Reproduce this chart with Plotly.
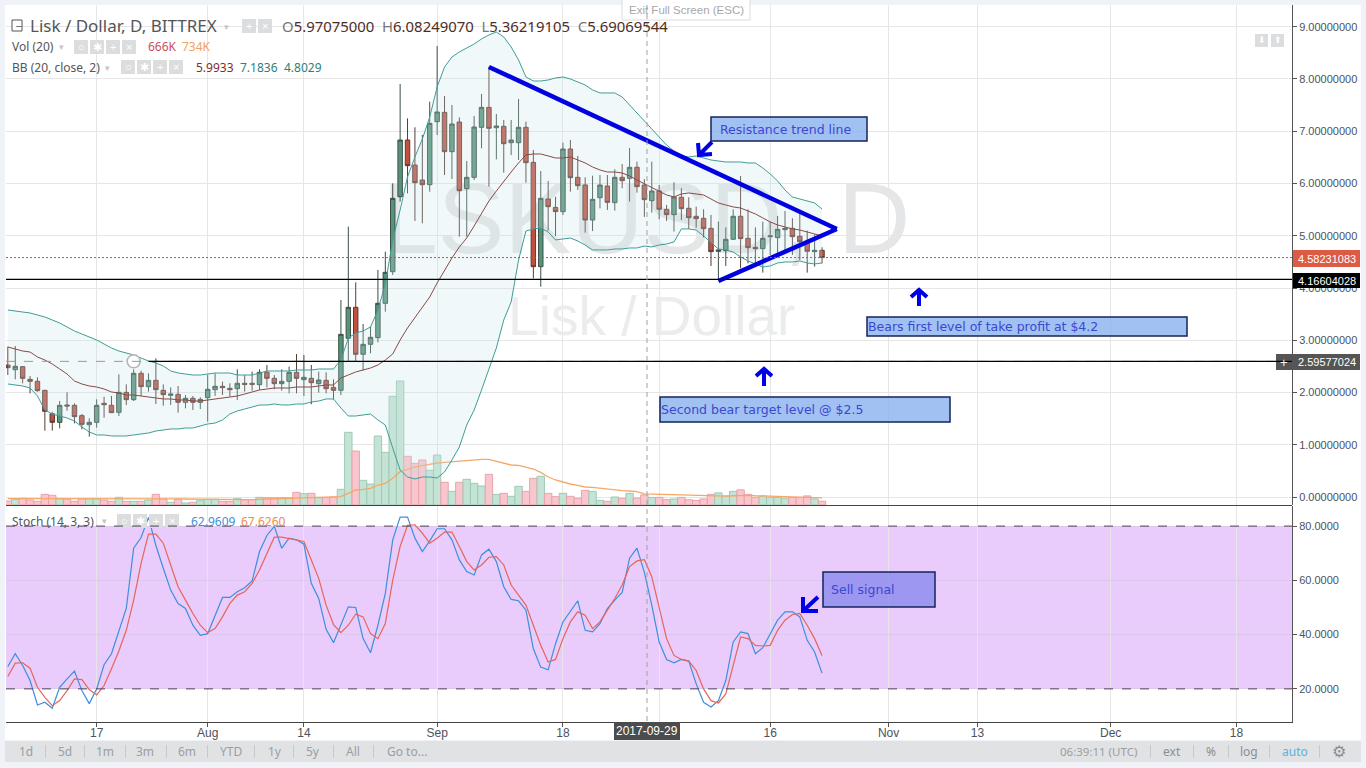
import pandas as pd
import plotly.graph_objects as go

W = 1366
H = 768

# Lisk / Dollar daily candles
dates = pd.date_range("2017-07-05", periods=111, freq="D")

opens = [2.526, 2.437, 2.495, 2.252, 2.214, 2.042, 1.595, 1.429, 1.761, 1.755,
         1.557, 1.384, 1.429, 1.793, 1.755, 1.621, 2.003, 1.863, 2.367, 2.112,
         2.233, 2.042, 1.946, 1.965, 1.812, 1.889, 1.812, 1.901, 2.054, 2.118,
         2.080, 2.073, 2.176, 2.176, 2.150, 2.386, 2.271, 2.169, 2.214, 2.386,
         2.246, 2.271, 2.169, 2.233, 2.099, 2.042, 3.037, 3.630, 2.731, 2.922,
         3.050, 3.707, 4.312, 5.747, 6.832, 6.354, 6.066, 5.977, 7.183, 7.362,
         6.609, 7.177, 5.901, 6.118, 7.075, 7.457, 7.068, 7.094, 6.781, 6.781,
         7.075, 6.405, 4.408, 5.703, 5.543, 5.461, 6.660, 6.118, 5.971, 5.301,
         5.728, 5.952, 5.634, 6.118, 6.099, 6.310, 5.97075, 5.672, 5.857, 5.506,
         5.404, 5.736, 5.525, 5.372, 5.334, 5.142, 4.702, 4.715, 4.932, 5.372,
         4.951, 4.779, 4.753, 4.983, 4.964, 5.117, 5.142, 4.989, 4.881, 4.696, 4.721]

highs = [2.877, 2.890, 2.507, 2.316, 2.290, 2.048, 1.633, 1.837, 2.003, 1.793,
         1.589, 1.506, 1.869, 1.920, 1.933, 2.348, 2.156, 2.444, 2.418, 2.367,
         2.654, 2.156, 2.099, 2.125, 1.952, 1.933, 1.908, 2.335, 2.367, 2.207,
         2.176, 2.444, 2.335, 2.399, 2.444, 2.527, 2.335, 2.444, 2.495, 2.737,
         2.718, 2.527, 2.399, 2.386, 2.252, 3.770, 5.174, 4.109, 3.311, 3.260,
         4.345, 4.696, 6.003, 7.904, 7.247, 7.075, 6.928, 7.566, 8.631, 7.674,
         7.502, 7.266, 6.430, 7.292, 7.713, 8.236, 7.330, 7.215, 7.215, 7.617,
         7.183, 6.641, 6.239, 6.047, 5.748, 6.781, 6.832, 6.526, 6.118, 6.150,
         6.162, 6.162, 6.272, 6.374, 6.680, 6.418, 6.08249, 6.418, 5.972, 5.589,
         6.023, 5.908, 5.736, 5.557, 5.506, 5.398, 5.270, 5.161, 5.506, 6.144,
         5.506, 5.161, 5.270, 5.270, 5.378, 5.474, 5.334, 5.429, 5.098, 5.027, 4.779]

lows = [2.335, 2.252, 2.176, 1.984, 2.016, 1.270, 1.270, 1.314, 1.652, 1.410,
        1.295, 1.155, 1.327, 1.518, 1.614, 1.550, 1.761, 1.837, 1.933, 2.016,
        1.780, 1.748, 1.761, 1.614, 1.697, 1.665, 1.684, 1.442, 1.933, 1.952,
        1.920, 1.857, 2.016, 2.035, 2.048, 2.099, 2.061, 2.035, 1.984, 1.984,
        1.933, 1.774, 1.997, 1.984, 1.869, 1.952, 2.590, 2.590, 2.418, 2.750,
        2.960, 3.547, 4.250, 5.652, 5.811, 5.282, 5.237, 5.843, 6.928, 6.162,
        6.086, 4.982, 4.982, 6.067, 6.673, 5.939, 6.462, 6.207, 6.545, 6.449,
        6.016, 4.185, 4.025, 5.097, 4.995, 5.397, 5.843, 5.875, 5.059, 5.090,
        5.524, 5.492, 5.480, 5.908, 5.653, 5.825, 5.36219, 5.442, 5.315, 5.283,
        5.079, 5.302, 5.130, 5.155, 4.970, 4.421, 4.153, 4.421, 4.919, 4.377,
        4.472, 4.472, 4.294, 4.632, 4.632, 4.664, 4.632, 4.536, 4.294, 4.409, 4.472]

closes = [2.475, 2.501, 2.271, 2.214, 2.035, 1.640, 1.429, 1.755, 1.742, 1.538,
          1.391, 1.429, 1.755, 1.767, 1.614, 2.003, 1.863, 2.367, 2.112, 2.233,
          2.054, 1.959, 1.971, 1.812, 1.889, 1.812, 1.869, 2.061, 2.118, 2.093,
          2.054, 2.176, 2.156, 2.156, 2.386, 2.271, 2.169, 2.214, 2.386, 2.271,
          2.290, 2.188, 2.239, 2.073, 2.042, 3.113, 3.630, 2.731, 2.922, 3.056,
          3.707, 4.300, 5.716, 6.832, 6.341, 6.016, 5.977, 7.151, 7.368, 6.609,
          7.138, 5.862, 6.118, 7.081, 7.457, 7.056, 7.100, 6.762, 6.832, 7.075,
          6.398, 4.408, 5.716, 5.556, 5.461, 6.660, 6.111, 5.958, 5.301, 5.697,
          5.971, 5.639, 6.118, 6.055, 6.310, 5.940, 5.69070, 5.857, 5.506, 5.404,
          5.742, 5.519, 5.346, 5.327, 5.136, 4.696, 4.728, 4.932, 5.372, 4.945,
          4.772, 4.753, 4.951, 4.996, 5.123, 5.142, 4.983, 4.887, 4.702, 4.721, 4.58231]

# volume in thousands
volumes = [264, 374, 440, 330, 242, 704, 638, 418, 396, 242,
           396, 418, 418, 330, 242, 506, 242, 242, 242, 330,
           704, 396, 176, 396, 132, 176, 286, 374, 374, 242,
           242, 418, 352, 352, 506, 484, 484, 484, 484, 836,
           748, 770, 484, 484, 528, 1034, 4796, 3564, 1628, 1386,
           4554, 3476, 7172, 8184, 3212, 2750, 2970, 2288, 3300, 1496,
           902, 1496, 1694, 1430, 1254, 2024, 704, 770, 572, 1232,
           902, 1760, 1892, 770, 550, 770, 572, 440, 968, 902,
           308, 242, 528, 440, 770, 462, 666, 500, 500, 350,
           400, 500, 350, 300, 400, 700, 800, 600, 900, 1000,
           700, 500, 600, 500, 500, 450, 500, 500, 600, 400, 250]

vol_ma = [420, 420, 425, 430, 430, 435, 440, 440, 445, 445,
          440, 440, 430, 430, 425, 425, 420, 420, 415, 410,
          410, 405, 400, 400, 395, 385, 380, 365, 360, 350,
          345, 340, 350, 360, 375, 385, 400, 410, 420, 430,
          440, 450, 460, 480, 506, 550, 770, 990, 1034, 1100,
          1320, 1430, 1760, 2200, 2354, 2508, 2596, 2706, 2772, 2816,
          2860, 2882, 2926, 2970, 3014, 3014, 2904, 2750, 2640, 2618,
          2508, 2376, 2156, 1848, 1650, 1496, 1386, 1298, 1188, 1166,
          1100, 1034, 990, 946, 924, 880, 734, 720, 700, 690,
          680, 670, 640, 620, 600, 590, 590, 580, 610, 640,
          640, 610, 590, 570, 560, 540, 530, 520, 510, 500, 470]

bb_upper = [3.579, 3.560, 3.541, 3.522, 3.483, 3.445, 3.388, 3.330, 3.254, 3.177,
            3.120, 3.062, 3.005, 2.928, 2.852, 2.794, 2.756, 2.718, 2.660, 2.603,
            2.565, 2.507, 2.412, 2.373, 2.354, 2.335, 2.335, 2.354, 2.373, 2.373,
            2.373, 2.335, 2.335, 2.335, 2.373, 2.412, 2.412, 2.412, 2.412, 2.431,
            2.431, 2.431, 2.450, 2.450, 2.450, 2.622, 3.043, 3.139, 3.177, 3.254,
            3.579, 4.077, 4.919, 5.493, 6.125, 6.508, 6.852, 7.273, 7.847, 8.230,
            8.422, 8.517, 8.594, 8.670, 8.766, 8.843, 8.900, 8.804, 8.613, 8.364,
            8.039, 7.962, 7.962, 7.981, 8.020, 8.039, 8.000, 7.943, 7.886, 7.790,
            7.733, 7.733, 7.733, 7.656, 7.503, 7.350, 7.1836, 7.044, 6.890, 6.737,
            6.622, 6.527, 6.508, 6.527, 6.488, 6.450, 6.431, 6.412, 6.412, 6.412,
            6.393, 6.393, 6.297, 6.182, 6.048, 5.876, 5.742, 5.704, 5.665, 5.627, 5.512]

bb_middle = [2.871, 2.833, 2.794, 2.775, 2.680, 2.622, 2.546, 2.450, 2.354, 2.220,
             2.163, 2.125, 2.105, 2.067, 2.010, 1.991, 1.952, 1.952, 1.933, 1.914,
             1.895, 1.876, 1.876, 1.857, 1.857, 1.837, 1.837, 1.857, 1.876, 1.895,
             1.914, 1.933, 1.971, 2.010, 2.048, 2.067, 2.086, 2.086, 2.086, 2.105,
             2.105, 2.105, 2.125, 2.144, 2.144, 2.278, 2.335, 2.393, 2.431, 2.469,
             2.526, 2.622, 2.737, 3.005, 3.235, 3.426, 3.637, 3.828, 4.096, 4.345,
             4.574, 4.785, 4.957, 5.187, 5.436, 5.665, 5.857, 6.048, 6.220, 6.393,
             6.546, 6.565, 6.565, 6.527, 6.488, 6.488, 6.508, 6.450, 6.393, 6.316,
             6.259, 6.220, 6.220, 6.201, 6.144, 6.067, 5.9933, 5.933, 5.857, 5.780,
             5.742, 5.799, 5.819, 5.799, 5.780, 5.704, 5.627, 5.589, 5.551, 5.531,
             5.474, 5.417, 5.340, 5.264, 5.206, 5.168, 5.130, 5.110, 5.072, 5.034, 4.996]

bb_lower = [2.163, 2.144, 2.125, 2.086, 1.933, 1.665, 1.589, 1.550, 1.512, 1.455,
            1.340, 1.244, 1.187, 1.187, 1.168, 1.168, 1.168, 1.187, 1.206, 1.225,
            1.263, 1.282, 1.302, 1.302, 1.321, 1.321, 1.359, 1.397, 1.416, 1.474,
            1.589, 1.646, 1.684, 1.723, 1.761, 1.761, 1.780, 1.761, 1.761, 1.780,
            1.780, 1.818, 1.837, 1.876, 1.876, 1.703, 1.550, 1.550, 1.570, 1.589,
            1.474, 1.378, 0.938, 0.517, 0.383, 0.345, 0.383, 0.383, 0.364, 0.479,
            0.708, 0.957, 1.378, 1.665, 2.048, 2.469, 2.852, 3.388, 3.732, 4.536,
            5.091, 5.130, 5.149, 5.072, 4.919, 4.938, 4.957, 4.900, 4.823, 4.728,
            4.728, 4.728, 4.747, 4.747, 4.766, 4.766, 4.8029, 4.785, 4.823, 4.842,
            4.881, 5.130, 5.130, 5.110, 4.996, 4.862, 4.747, 4.728, 4.689, 4.594,
            4.517, 4.460, 4.402, 4.421, 4.479, 4.498, 4.498, 4.517, 4.479, 4.460, 4.479]

stoch_k = [28.27, 32.96, 28.64, 23.08, 14.07, 15.06, 12.84, 20.61, 23.70, 26.54,
           19.38, 14.57, 20.00, 28.89, 32.96, 41.00, 49.63, 71.85, 75.80, 83.21,
           72.84, 64.44, 56.42, 51.48, 49.63, 43.46, 39.75, 40.37, 47.16, 53.70,
           53.70, 55.80, 57.28, 59.75, 70.62, 76.54, 79.88, 71.85, 75.55, 74.94,
           73.33, 58.89, 53.33, 41.97, 37.04, 43.46, 50.25, 50.00, 38.52, 33.33,
           43.46, 55.18, 74.94, 83.33, 83.33, 75.55, 70.62, 74.57, 79.01, 79.01,
           74.94, 67.53, 63.21, 61.97, 69.38, 71.48, 66.91, 57.65, 52.96, 52.47,
           49.01, 34.81, 28.02, 27.03, 36.66, 44.69, 48.64, 52.47, 41.60, 40.99,
           44.07, 49.63, 52.71, 55.55, 68.15, 71.85, 62.96, 50.86, 37.28, 30.86,
           29.63, 30.86, 30.24, 21.85, 15.06, 13.33, 15.68, 23.08, 37.28, 40.99,
           40.37, 32.96, 35.18, 40.37, 45.31, 48.39, 48.39, 46.54, 37.90, 33.58, 25.80]

stoch_d = [24.57, 29.50, 29.63, 27.65, 20.61, 16.91, 13.82, 15.68, 19.38, 23.70,
           23.45, 19.75, 17.77, 21.23, 27.40, 33.95, 41.60, 52.71, 66.29, 77.04,
           77.04, 73.70, 65.68, 57.65, 52.71, 47.78, 43.46, 40.74, 42.22, 46.54,
           51.48, 54.57, 55.80, 58.89, 63.83, 70.00, 75.92, 75.92, 75.31, 74.69,
           74.32, 67.53, 60.74, 50.86, 43.70, 40.74, 43.46, 47.53, 46.54, 40.37,
           38.52, 44.07, 60.12, 72.47, 80.25, 80.49, 77.41, 73.70, 75.55, 77.78,
           77.78, 72.47, 66.91, 63.83, 65.68, 68.52, 68.76, 65.68, 58.27, 54.57,
           50.86, 43.46, 36.05, 29.87, 30.86, 38.52, 44.69, 48.39, 47.16, 42.22,
           44.69, 49.01, 53.33, 58.27, 65.06, 67.16, 67.63, 61.36, 49.63, 38.52,
           32.34, 30.86, 30.24, 26.79, 20.00, 15.68, 14.81, 18.15, 28.64, 39.13,
           38.52, 36.05, 35.80, 36.05, 41.60, 45.31, 47.41, 47.78, 43.46, 38.52, 32.34]

for series in (opens, highs, lows, closes, volumes, vol_ma, bb_upper, bb_middle, bb_lower, stoch_k, stoch_d):
    assert len(series) == len(dates), len(series)

price_ticks = [0, 1, 2, 3, 4, 5, 6, 7, 8, 9]
price_labels = ["%.8f" % p for p in price_ticks]
stoch_ticks = [20, 40, 60, 80]
stoch_labels = ["20.0000", "40.0000", "60.0000", "80.0000"]
# the Oct label sits under the crosshair date tag, so it stays empty
x_ticks = ["2017-07-17", "2017-08-01", "2017-08-14", "2017-09-01", "2017-09-18", "2017-10-01",
           "2017-10-16", "2017-11-01", "2017-11-13", "2017-12-01", "2017-12-18"]
x_labels = ["17", "Aug", "14", "Sep", "18", "", "16", "Nov", "13", "Dec", "18"]

# horizontal levels and the trend lines drawn on the chart
last_price = 4.58231083
support_level = 4.16604028
second_level = 2.59577024
crosshair_date = "2017-09-29"
resistance_x = ["2017-09-08", "2017-10-25"]
resistance_y = [8.23, 5.13]
rising_x = ["2017-10-09", "2017-10-25"]
rising_y = [4.134, 5.13]


def px(x):
    return x / W


def py(y):
    return 1 - y / H


shapes = []
annotations = []


def box(x0, y0, x1, y1, fill, line=None, layer="above", lw=1):
    shapes.append(dict(type="rect", xref="paper", yref="paper", layer=layer,
                       x0=px(x0), x1=px(x1), y0=py(y0), y1=py(y1), fillcolor=fill,
                       line=dict(color=line or fill, width=lw if line else 0)))


def text(x, y, s, size=11, color="#555", anchor="left", font="Liberation Sans"):
    annotations.append(dict(xref="paper", yref="paper", x=px(x), y=py(y), text=s, showarrow=False,
                            xanchor=anchor, yanchor="middle",
                            font=dict(size=size, color=color, family=font)))


def buttons(x, y, count):
    glyphs = ["○", "✱", "+", "×"]
    for k in range(count):
        left = x + k * 16
        box(left, y - 7, left + 14, y + 7, "#dcddde")
        text(left + 7, y, glyphs[4 - count + k], size=11, color="white", anchor="center")


def chevron(points):
    # thick hand drawn arrow: tail, tip, then the two barbs
    tail, tip, barb_a, barb_b = points
    path = "M %f %f L %f %f M %f %f L %f %f L %f %f" % (
        px(tail[0]), py(tail[1]), px(tip[0]), py(tip[1]),
        px(barb_a[0]), py(barb_a[1]), px(tip[0]), py(tip[1]), px(barb_b[0]), py(barb_b[1]))
    shapes.append(dict(type="path", xref="paper", yref="paper", path=path,
                       line=dict(color="#0000e8", width=4)))


def note(x0, y0, x1, y1, s, fill, tx, size=12.5):
    box(x0, y0, x1, y1, fill, line="#14245a", lw=1.5)
    text(tx, (y0 + y1) / 2, s, size=size, color="#3a48cf", font="DejaVu Sans")


def price_tag(y0, y1, s, fill):
    box(1293, y0, 1360, y1, fill)
    text(1327, (y0 + y1) / 2, s, size=11, color="white", anchor="center")


# page furniture
box(5, 5, 1361, 740, "white", layer="below")
box(5, 741, 1361, 762, "#e1e2e4", layer="below")
box(622, -1, 750, 20, "white", line="#dcdcdc")
text(686, 10, "Exit Full Screen (ESC)", size=11.5, color="#a8a8a8", anchor="center")

# header rows
box(12, 20, 22, 31, "white", line="#555")
text(14, 25, "–", size=10, color="#555")
text(28, 26, "Lisk / Dollar, D, BITTREX", size=17, color="#555", font="Noto Sans")
text(222, 27, "▾", size=9, color="#c4c4c4")
buttons(242, 26, 2)
text(280, 26, ('<span style="color:#777">O</span>5.97075000  <span style="color:#777">H</span>6.08249070  '
               '<span style="color:#777">L</span>5.36219105  <span style="color:#777">C</span>5.69069544'),
     size=14.9, color="#4e2c26", font="Noto Sans")

text(10, 47, "Vol (20)", size=12, color="#555", font="Noto Sans")
text(57, 47, "▾", size=9, color="#c4c4c4")
buttons(74, 47, 4)
text(146, 47, "666K", size=12, color="#c9505c", font="Noto Sans")
text(180, 47, "734K", size=12, color="#f0a265", font="Noto Sans")

text(10, 68, "BB (20, close, 2)", size=12, color="#555", font="Noto Sans")
text(103, 68, "▾", size=9, color="#c4c4c4")
buttons(121, 67, 4)
text(194, 68, "5.9933", size=12, color="#7d2d2d", font="Noto Sans")
text(238, 68, "7.1836", size=12, color="#2f7f7a", font="Noto Sans")
text(282, 68, "4.8029", size=12, color="#2f7f7a", font="Noto Sans")

text(10, 521, "Stoch (14, 3, 3)", size=12, color="#555", font="Noto Sans")
text(100, 521, "▾", size=9, color="#c4c4c4")
buttons(117, 521, 4)
text(189, 521, "62.9609", size=12, color="#3d8fdc", font="Noto Sans")
text(239, 521, "67.6260", size=12, color="#ef8a4c", font="Noto Sans")

box(1255, 34, 1268, 47, "#dcddde")
box(1271, 34, 1284, 47, "#dcddde")
text(1261.5, 40, "⬇", size=9, color="white", anchor="center")
text(1277.5, 40, "⬆", size=9, color="white", anchor="center")

# bottom toolbar
for label, x in zip(["1d", "5d", "1m", "3m", "6m", "YTD", "1y", "5y", "All", "Go to..."],
                    [26, 65, 105, 145, 187, 231, 275, 313, 353, 407]):
    text(x, 751, label, size=12, color="#9a9ea5", anchor="center", font="Noto Sans")
for x in [45, 84, 125, 166, 207, 254, 293, 333, 373, 1150, 1193, 1228, 1269, 1319]:
    box(x, 745, x + 1, 758, "#c8c9cc")
text(1098, 751, "06:39:11 (UTC)", size=11.5, color="#9a9ea5", anchor="center", font="Noto Sans")
text(1172, 751, "ext", size=12, color="#8a8e95", anchor="center", font="Noto Sans")
text(1211, 751, "%", size=12, color="#8a8e95", anchor="center", font="Noto Sans")
text(1249, 751, "log", size=12, color="#8a8e95", anchor="center", font="Noto Sans")
text(1295, 751, "auto", size=12, color="#5fb0dc", anchor="center", font="Noto Sans")
text(1339, 751, "⚙", size=16, color="#8a8e95", anchor="center", font="DejaVu Sans")

# price scale tags
price_tag(250, 267, "4.58231083", "#dd5a44")
price_tag(273, 288, "4.16604028", "black")
price_tag(354, 370, "2.59577024", "#555555")
box(1276, 354, 1292, 370, "#555555")
text(1284, 362, "+", size=13, color="white", anchor="center")
box(614, 722, 680, 740, "#4c4c4c")
text(647, 731, "2017-09-29", size=12, color="white", anchor="center")

# text boxes and arrows added on the chart
note(711, 117, 867, 141, "Resistance trend line", "rgba(136,176,240,0.78)", 718)
note(867, 317, 1187, 336, "Bears first level of take profit at $4.2", "rgba(136,176,240,0.78)", 866)
note(660, 397, 950, 422, "Second bear target level @ $2.5", "rgba(136,176,240,0.78)", 659)
note(823, 572, 935, 607, "Sell signal", "rgba(136,136,240,0.78)", 829)
chevron([(712, 142), (699, 155), (698, 143), (712, 154)])
chevron([(919, 306), (919, 290), (911, 297), (927, 297)])
chevron([(764, 386), (764, 369), (756, 376), (772, 376)])
chevron([(818, 597), (803, 611), (803, 597), (818, 611)])

# fixed levels
for level, color, dash, x0, w in [(last_price, "#e0452c", "2px,2px", "2017-07-04 18:00", 1),
                                  (support_level, "black", "solid", "2017-07-04 18:00", 1.3),
                                  (second_level, "#999999", "dash", "2017-07-04 18:00", 1),
                                  (second_level, "black", "solid", "2017-07-24", 1.3)]:
    shapes.append(dict(type="line", xref="x", yref="y2", x0=x0, x1="2017-12-25 12:00", y0=level, y1=level,
                       line=dict(color=color, width=w, dash=dash), layer="above"))

# stochastic band
shapes.append(dict(type="rect", xref="x", yref="y3", x0="2017-07-04 18:00", x1="2017-12-25 12:00", y0=20, y1=80,
                   fillcolor="#e9ccfb", line=dict(width=0), layer="below"))
for level in (20, 80):
    shapes.append(dict(type="line", xref="x", yref="y3", x0="2017-07-04 18:00", x1="2017-12-25 12:00",
                       y0=level, y1=level, line=dict(color="#4f4058", width=1, dash="dash")))

# crosshair and panel divider
shapes.append(dict(type="line", xref="paper", yref="paper", x0=px(647), x1=px(647), y0=py(5), y1=py(722),
                   line=dict(color="#a0a0a0", width=1, dash="5px,4px")))
box(6, 505, 1292, 506, "#444444")

fig = go.Figure()

# big symbol watermark, on the volume axis so that everything else stays on top of it
fig.add_trace(go.Scatter(x=["2017-09-29 06:00", "2017-09-30"], y=[18280, 12100], xaxis="x", yaxis="y", mode="text",
                         text=["LSKUSD, D", "Lisk / Dollar"], textposition="middle center",
                         textfont=dict(size=[100, 55], color=["#e4e6e7", "#ebecec"], family="Liberation Sans")))

# volume sits underneath, price overlays it
vol_colors = ["#c5e3d4" if c >= o else "#f9c6cd" for o, c in zip(opens, closes)]
vol_edges = ["#9dcbb5" if c >= o else "#e8a3ab" for o, c in zip(opens, closes)]
fig.add_trace(go.Bar(x=dates, y=volumes, xaxis="x", yaxis="y", width=86400000,
                     marker=dict(color=vol_colors, line=dict(color=vol_edges, width=1))))
fig.add_trace(go.Scatter(x=dates, y=vol_ma, xaxis="x", yaxis="y", mode="lines",
                         line=dict(color="#f5a866", width=1.3)))

fig.add_trace(go.Scatter(x=dates, y=bb_lower, xaxis="x", yaxis="y2", mode="lines",
                         line=dict(color="#3f9d97", width=1)))
fig.add_trace(go.Scatter(x=dates, y=bb_upper, xaxis="x", yaxis="y2", mode="lines", fill="tonexty",
                         fillcolor="rgba(200,228,232,0.25)", line=dict(color="#3f9d97", width=1)))
fig.add_trace(go.Candlestick(x=dates, open=opens, high=highs, low=lows, close=closes, xaxis="x", yaxis="y2",
                             whiskerwidth=0,
                             increasing=dict(fillcolor="#56947a", line=dict(color="#3c4f46", width=1)),
                             decreasing=dict(fillcolor="#c0503f", line=dict(color="#573c36", width=1))))
fig.add_trace(go.Scatter(x=dates, y=bb_middle, xaxis="x", yaxis="y2", mode="lines",
                         line=dict(color="#8a4a45", width=1)))

# trend lines
fig.add_trace(go.Scatter(x=resistance_x, y=resistance_y, xaxis="x", yaxis="y2", mode="lines",
                         line=dict(color="#0000e0", width=4.5)))
fig.add_trace(go.Scatter(x=rising_x, y=rising_y, xaxis="x", yaxis="y2", mode="lines",
                         line=dict(color="#0000e0", width=4.5)))

# alert circle on the second level
fig.add_trace(go.Scatter(x=["2017-07-22"], y=[second_level], xaxis="x", yaxis="y2", mode="markers",
                         marker=dict(size=13, color="rgba(255,255,255,0.8)", line=dict(color="#b4b4b4", width=1.5))))

fig.add_trace(go.Scatter(x=dates, y=stoch_k, xaxis="x", yaxis="y3", mode="lines",
                         line=dict(color="#3d8fdc", width=1.2)))
fig.add_trace(go.Scatter(x=dates, y=stoch_d, xaxis="x", yaxis="y3", mode="lines",
                         line=dict(color="#e4665a", width=1.2)))

tick_font = dict(size=11, color="#4c525e", family="Liberation Sans")
main_domain = [py(505), py(5)]

fig.update_layout(
    width=W, height=H,
    margin=dict(l=0, r=0, t=0, b=0),
    paper_bgcolor="#eff2f6", plot_bgcolor="white",
    showlegend=False, hovermode=False, boxgap=0.4, boxgroupgap=0,
    shapes=shapes, annotations=annotations,
    xaxis=dict(domain=[px(6), px(1292)], type="date", anchor="y3",
               range=["2017-07-04 18:00", "2017-12-25 12:00"], rangeslider=dict(visible=False),
               tickmode="array", tickvals=x_ticks, ticktext=x_labels, tickfont=dict(size=12, color="#4c525e",
               family="Liberation Sans"), ticklen=4, ticklabelstandoff=-4,
               ticks="outside", tickcolor="#555", showgrid=True, gridcolor="#e6e6e6", zeroline=False,
               showline=True, linecolor="#444", mirror=False),
    yaxis=dict(domain=main_domain, range=[0, 33000], anchor="x", visible=False, fixedrange=True),
    yaxis2=dict(domain=main_domain, range=[-0.153, 9.416], anchor="x", overlaying="y", side="right",
                tickmode="array", tickvals=price_ticks, ticktext=price_labels, tickfont=tick_font,
                ticks="outside", ticklen=4, tickcolor="#555", showgrid=True, gridcolor="#e6e6e6",
                zeroline=False, showline=True, linecolor="#555"),
    yaxis3=dict(domain=[py(722), py(506)], range=[7.8, 87.4], anchor="x", side="right",
                tickmode="array", tickvals=stoch_ticks, ticktext=stoch_labels, tickfont=tick_font,
                ticks="outside", ticklen=4, tickcolor="#555", showgrid=True, gridcolor="#dcc8ea",
                zeroline=False, showline=True, linecolor="#555"),
)

fig.write_html("out.html", config=dict(displayModeBar=False),
               post_script="document.body.style.margin='0';document.body.style.overflow='hidden';")
